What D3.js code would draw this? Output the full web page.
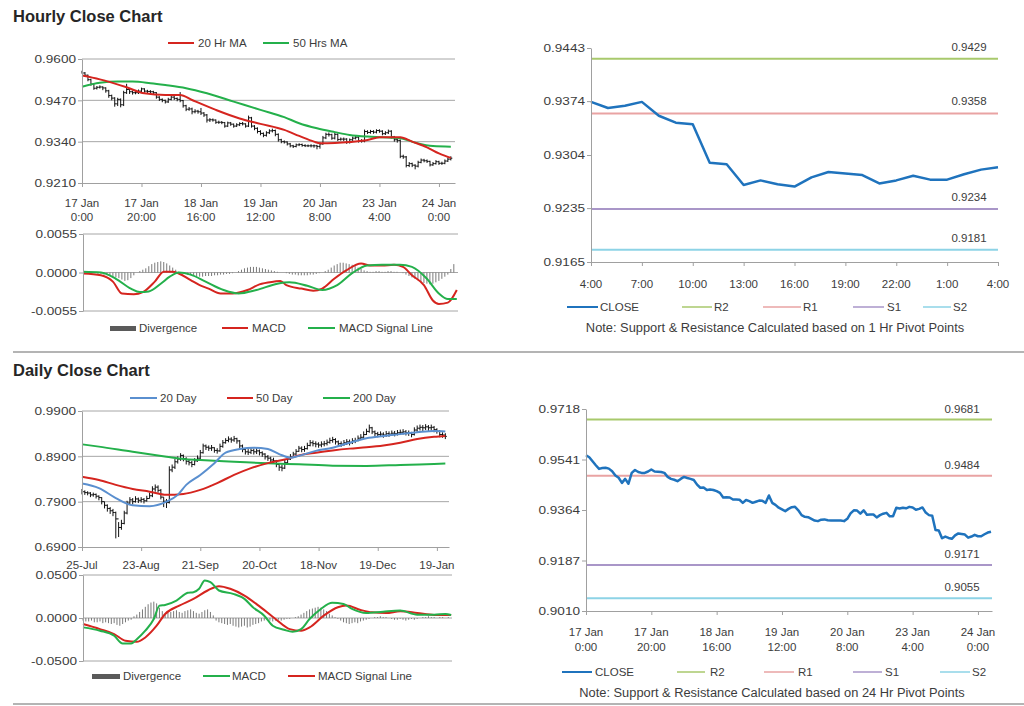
<!DOCTYPE html>
<html><head><meta charset="utf-8">
<script src="https://cdn.jsdelivr.net/npm/d3@7"></script>
<style>body{margin:0;background:#fff}svg{display:block}</style>
</head><body>
<script>
// ---------------- DATA ----------------
const hourlyClose=[.9556,.9549,.9535,.9521,.9508,.9511,.9512,.9509,.9500,.9485,
.9477,.9459,.9473,.9456,.9494,.9504,.9497,.9494,.9494,.9499,
.9506,.9499,.9498,.9497,.9494,.9480,.9473,.9470,.9465,.9473,
.9480,.9476,.9473,.9469,.9453,.9442,.9443,.9434,.9436,.9434,
.9430,.9424,.9408,.9409,.9408,.9401,.9401,.9400,.9389,.9399,
.9395,.9389,.9393,.9397,.9396,.9389,.9415,.9389,.9382,.9372,
.9366,.9360,.9368,.9374,.9375,.9363,.9346,.9340,.9339,.9333,
.9327,.9325,.9330,.9331,.9328,.9327,.9327,.9327,.9327,.9325,
.9333,.9352,.9363,.9362,.9351,.9363,.9347,.9348,.9348,.9338,
.9346,.9351,.9354,.9342,.9342,.9372,.9369,.9372,.9370,.9375,
.9373,.9365,.9368,.9373,.9355,.9346,.9344,.9294,.9292,.9265,
.9271,.9266,.9263,.9275,.9282,.9280,.9278,.9267,.9271,.9277,
.9272,.9272,.9279,.9285,.9288];
const hourlyHigh=[.9563,.9559,.9551,.9538,.9524,.9515,.9517,.9514,.9511,.9503,
.9488,.9480,.9478,.9476,.9500,.9522,.9508,.9501,.9500,.9504,
.9510,.9508,.9503,.9502,.9500,.9496,.9483,.9476,.9472,.9478,
.9485,.9484,.9479,.9496,.9471,.9456,.9449,.9447,.9442,.9440,
.9446,.9433,.9427,.9414,.9413,.9410,.9406,.9405,.9402,.9403,
.9402,.9397,.9398,.9401,.9402,.9398,.9422,.9418,.9392,.9385,
.9376,.9369,.9373,.9379,.9381,.9378,.9366,.9349,.9344,.9341,
.9336,.9330,.9334,.9335,.9334,.9332,.9331,.9332,.9331,.9330,
.9338,.9358,.9368,.9369,.9365,.9368,.9366,.9353,.9353,.9351,
.9350,.9356,.9358,.9357,.9348,.9378,.9376,.9377,.9376,.9379,
.9379,.9376,.9373,.9378,.9376,.9358,.9350,.9347,.9299,.9295,
.9276,.9274,.9269,.9280,.9287,.9286,.9284,.9280,.9276,.9282,
.9280,.9277,.9284,.9290,.9294];
const hourlyLow=[.9554,.9546,.9530,.9516,.9503,.9504,.9507,.9502,.9494,.9478,
.9470,.9450,.9452,.9448,.9452,.9490,.9490,.9488,.9489,.9490,
.9496,.9494,.9493,.9492,.9489,.9475,.9468,.9464,.9460,.9462,
.9470,.9471,.9467,.9464,.9447,.9436,.9437,.9426,.9429,.9428,
.9424,.9418,.9400,.9402,.9403,.9396,.9396,.9395,.9384,.9386,
.9390,.9384,.9386,.9389,.9391,.9384,.9386,.9384,.9376,.9366,
.9360,.9354,.9356,.9364,.9369,.9357,.9340,.9335,.9334,.9328,
.9322,.9320,.9322,.9326,.9324,.9323,.9323,.9322,.9321,.9316,
.9318,.9330,.9348,.9356,.9346,.9347,.9342,.9343,.9342,.9333,
.9334,.9342,.9347,.9337,.9337,.9338,.9364,.9365,.9365,.9366,
.9368,.9360,.9361,.9364,.9350,.9340,.9337,.9288,.9286,.9259,
.9260,.9260,.9253,.9259,.9272,.9275,.9273,.9262,.9264,.9268,
.9267,.9267,.9269,.9276,.9281];
// [bar index, value]
const ma20Hour=[[0,.9548],[6,.9536],[15,.9511],[21,.9492],[28,.9487],[33,.9487],[37,.9471],[45,.9440],[53,.9413],[60,.9396],[68,.9377],[73,.9358],[78,.9340],[80,.9335],[85,.9336],[90,.9339],[96,.9345],[100,.9354],[107,.9354],[111,.9340],[116,.9322],[120,.9303],[124,.9289]];
const ma50Hour=[[0,.9513],[6,.9525],[12,.9529],[17,.9529],[23,.9524],[28,.9518],[35,.9508],[42,.9492],[51,.9466],[60,.9440],[68,.9417],[73,.9398],[79,.9382],[85,.9370],[90,.9361],[96,.9356],[101,.9354],[107,.9351],[112,.9337],[118,.9326],[124,.9324]];
const macdHour=[[0,-.00014],[6,-.0004],[10,-.0013],[13,-.0030],[17,-.0031],[20,-.0028],[24,-.0013],[27,.0001],[30,.0001],[32,-.00014],[36,-.0011],[39,-.0018],[42,-.0023],[46,-.0030],[50,-.0030],[55,-.0025],[59,-.0017],[64,-.0013],[66,-.0012],[68,-.0018],[73,-.0023],[77,-.0026],[80,-.0023],[84,-.0009],[88,.0003],[93,.0013],[96,.0010],[100,.0010],[104,.0011],[107,.0008],[110,-.0004],[114,-.0018],[117,-.0040],[119,-.0045],[122,-.0043],[125,-.0025]];
const signalHour=[[0,.0001],[6,0],[11,-.0009],[16,-.0023],[19,-.0028],[22,-.0027],[26,-.0016],[29,-.0006],[32,0],[36,-.0003],[41,-.0013],[47,-.0025],[52,-.0030],[58,-.0025],[65,-.0016],[69,-.0014],[75,-.0019],[80,-.0025],[85,-.0018],[90,-.0001],[95,.0010],[100,.0011],[106,.0011],[110,.0008],[115,-.0009],[119,-.0030],[122,-.0038],[125,-.0038]];
const divHour=[0,0,-.0001,-.0001,-.0001,
-.0002,-.0002,-.0003,-.0004,-.0005,-.0006,-.0007,-.0008,-.0010,-.0012,-.0011,-.0008,-.0004,
0,.0002,.0004,.0006,.0009,.0012,.0014,.0015,.0016,.0015,.0013,.0010,.0007,.0004,.0001,
-.0001,-.0002,-.0003,-.0004,-.0005,-.0006,-.0006,-.0006,-.0005,-.0005,-.0005,-.0004,-.0004,-.0003,-.0003,-.0002,-.0002,-.0001,
0,.0002,.0004,.0006,.0007,.0008,.0008,.0008,.0007,.0006,.0005,.0004,.0003,.0002,.0001,0,0,
-.0001,-.0002,-.0003,-.0003,-.0004,-.0004,-.0004,-.0004,-.0003,-.0003,-.0002,-.0001,0,
.0002,.0004,.0007,.0010,.0012,.0014,.0014,.0013,.0012,.0011,.0009,.0007,.0005,.0003,.0002,
.0001,.0001,.0002,.0002,.0001,.0001,.0002,.0002,.0001,.0001,0,-.0001,
-.0003,-.0005,-.0007,-.0009,-.0011,-.0013,-.0015,-.0016,-.0017,-.0016,-.0014,-.0012,-.0009,-.0006,-.0003,
.0005,.0012];
const hourTickIdx=[0,20,40,60,80,100,120];
const hourTickLabels=[["17 Jan","0:00"],["17 Jan","20:00"],["18 Jan","16:00"],["19 Jan","12:00"],["20 Jan","8:00"],["23 Jan","4:00"],["24 Jan","0:00"]];
const hourPriceTicks=[0.9210,0.9340,0.9470,0.9600];
const hourMacdTicks=[-0.0055,0,0.0055];

const lastDayStart=100; // 23 Jan 4:00
const pivotNames=["R2","R1","S1","S2"];
const pivotColors=["#a8c96c","#e9a3a3","#a996c8","#8dd3e6"];
const pivotHourValues=[0.9429,0.9358,0.9234,0.9181];
const pivotDayValues=[0.9681,0.9484,0.9171,0.9055];
const lastDayTicks=[0.9165,0.9235,0.9304,0.9374,0.9443];
const lastDayHourLabels=["4:00","7:00","10:00","13:00","16:00","19:00","22:00","1:00","4:00"];
const weekTicks=[0.9010,0.9187,0.9364,0.9541,0.9718];

const dailyClose=[.812,.810,.809,.805,.806,.802,.799,.790,.782,.775,
.770,.766,.752,.733,.742,.765,.787,.794,.790,.796,
.793,.795,.792,.797,.803,.818,.822,.815,.800,.791,
.788,.860,.866,.878,.884,.892,.885,.879,.876,.872,
.880,.886,.898,.913,.910,.908,.909,.903,.902,.912,
.920,.925,.928,.926,.929,.924,.913,.905,.900,.899,
.903,.900,.902,.898,.895,.889,.886,.882,.880,.872,
.866,.864,.876,.884,.889,.895,.901,.908,.905,.907,
.914,.920,.918,.917,.915,.917,.918,.921,.925,.927,
.922,.918,.917,.920,.922,.920,.924,.925,.930,.932,
.938,.945,.953,.944,.940,.938,.939,.937,.940,.939,
.941,.940,.942,.943,.944,.942,.941,.938,.948,.952,
.954,.953,.955,.953,.954,.949,.945,.938,.937,.934];
const dailyHigh=[.818,.815,.813,.811,.810,.808,.804,.800,.790,.784,
.778,.774,.768,.745,.750,.770,.792,.800,.798,.802,
.799,.800,.798,.803,.810,.824,.828,.826,.818,.800,
.796,.868,.872,.884,.890,.897,.894,.888,.884,.880,
.886,.892,.904,.918,.916,.914,.915,.910,.908,.918,
.926,.930,.934,.932,.935,.931,.926,.916,.908,.906,
.909,.907,.908,.905,.901,.897,.893,.889,.887,.882,
.874,.872,.882,.890,.895,.900,.906,.913,.912,.913,
.920,.926,.925,.923,.921,.923,.924,.927,.931,.933,
.930,.925,.923,.926,.928,.927,.930,.931,.936,.939,
.945,.951,.960,.955,.947,.944,.945,.943,.946,.945,
.947,.946,.948,.949,.950,.948,.947,.944,.954,.958,
.960,.959,.961,.959,.960,.957,.952,.948,.943,.941];
const dailyLow=[.806,.805,.804,.800,.801,.797,.793,.784,.775,.768,
.763,.758,.709,.712,.728,.740,.762,.785,.784,.788,
.787,.788,.786,.790,.797,.800,.812,.810,.795,.778,
.776,.786,.855,.862,.874,.880,.879,.872,.870,.866,
.870,.878,.884,.896,.904,.902,.902,.898,.896,.900,
.909,.918,.921,.920,.922,.918,.908,.899,.894,.893,
.895,.894,.895,.892,.889,.883,.880,.876,.874,.866,
.858,.857,.862,.872,.882,.887,.893,.900,.899,.900,
.905,.912,.912,.910,.909,.910,.912,.914,.918,.920,
.916,.912,.911,.913,.915,.914,.917,.919,.923,.926,
.930,.937,.942,.939,.934,.932,.933,.931,.933,.933,
.935,.934,.936,.937,.938,.936,.935,.932,.936,.944,
.947,.946,.948,.946,.947,.943,.940,.932,.931,.928];
const ma20Day=[[0,.830],[6,.820],[12,.798],[18,.782],[24,.780],[30,.790],[34,.805],[37,.827],[42,.849],[47,.875],[51,.898],[56,.906],[61,.909],[66,.906],[70,.895],[74,.887],[77,.891],[83,.902],[89,.909],[95,.920],[101,.930],[107,.935],[113,.939],[119,.943],[125,.946],[129,.945]];
const ma50Day=[[0,.845],[6,.838],[12,.827],[18,.818],[24,.812],[30,.805],[36,.807],[42,.816],[48,.831],[54,.849],[60,.864],[66,.875],[72,.883],[77,.892],[83,.898],[89,.903],[95,.907],[101,.910],[107,.914],[113,.920],[119,.928],[125,.933],[129,.935]];
const ma200Day=[[0,.9165],[6,.9114],[18,.900],[30,.8893],[36,.8842],[42,.882],[54,.8783],[66,.8746],[77,.8724],[89,.8695],[101,.8688],[113,.871],[125,.8732],[129,.874]];
const macdDay=[[0,-.0109],[6,-.0148],[11,-.0207],[14,-.0296],[17,-.0296],[19,-.0246],[22,-.0148],[25,-.0012],[27,.0144],[29,.0152],[33,.0203],[37,.0293],[39,.0300],[41,.0340],[43,.0437],[45,.0417],[48,.0320],[53,.0281],[57,.0222],[60,.0125],[64,.0027],[67,-.0090],[71,-.0137],[74,-.0160],[77,-.0129],[80,-.0012],[84,.0105],[88,.0176],[92,.0164],[95,.0105],[100,.0058],[106,.0074],[112,.0086],[118,.0039],[124,.0039],[128,.0047],[130,.0035]];
const signalDay=[[0,-.0070],[6,-.0129],[11,-.0187],[15,-.0265],[19,-.0277],[22,-.0226],[26,-.0090],[29,.0047],[34,.0144],[39,.0222],[44,.0320],[48,.0370],[52,.0340],[57,.0261],[62,.0144],[68,-.0012],[73,-.0129],[77,-.0148],[80,-.0109],[85,.0027],[90,.0125],[93,.0144],[98,.0094],[102,.0066],[107,.0058],[112,.0078],[118,.0058],[124,.0035],[130,.0035]];
const divDay=[-.003,-.004,-.004,-.003,-.005,-.005,-.004,-.006,-.005,-.006,-.007,-.006,-.008,-.009,-.007,-.005,-.003,-.002,
.002,.004,.007,.010,.013,.016,.018,.019,.017,.012,.008,.005,
.006,.007,.008,.009,.007,.006,.008,.009,.010,.008,.006,.005,.007,.009,.010,.007,.003,
-.003,-.005,-.006,-.007,-.008,-.007,-.009,-.010,-.011,-.010,-.009,-.011,-.010,-.008,-.007,-.006,-.004,-.003,
-.002,-.003,-.004,-.003,-.002,-.003,-.002,-.001,-.001,0,.001,.002,.004,
.006,.008,.010,.011,.012,.013,.012,.010,.008,.005,.003,.001,-.001,-.003,-.005,
-.006,-.007,-.006,-.005,-.006,-.004,-.003,-.002,-.001,
0,.001,.001,.002,.001,.001,0,-.001,-.002,-.002,-.001,-.002,-.003,-.002,-.001,-.002,-.001,0,.001,.001,.002,.001,.001,0,.001,.001,0,.001];
const dayTickIdx=[0,21,42,63,84,105,126];
const dayTickLabels=["25-Jul","23-Aug","21-Sep","20-Oct","18-Nov","19-Dec","19-Jan"];
const dayPriceTicks=[0.6900,0.7900,0.8900,0.9900];
const dayMacdTicks=[-0.05,0,0.05];

// ---------------- DRAW ----------------
const FONT="'Liberation Sans', Arial, Helvetica, sans-serif";
const AXC="#a0a0a0", GRIDC="#a6a6a6", TXT="#3c3c3c";
const RED="#d5251f", GREEN="#24b04b", BLUE20="#5a8fcf", CLOSEC="#1f73bd";
const f4=d=>d.toFixed(4);
const svg=d3.select("body").append("svg").attr("width",1024).attr("height",706).style("font-family",FONT);

function stretch(sel,k){
  sel.each(function(){const L=this.getComputedTextLength(); d3.select(this).attr("textLength",L*k).attr("lengthAdjust","spacingAndGlyphs");});
}
function txt(x,y,s,size,anchor,weight,fill){
  return svg.append("text").attr("x",x).attr("y",y).text(s).attr("font-size",size||11)
    .attr("text-anchor",anchor||"start").attr("font-weight",weight||"normal").attr("fill",fill||TXT);
}
function styleAxis(g){
  g.attr("font-family",FONT).attr("font-size",11.5);
  g.select(".domain").attr("stroke",AXC);
  g.selectAll(".tick line").attr("stroke",AXC);
  g.selectAll(".tick text").attr("fill",TXT);
}
function hgrid(y,vals,x0,x1){
  svg.append("g").selectAll("line").data(vals).join("line")
    .attr("x1",x0).attr("x2",x1).attr("y1",d=>y(d)).attr("y2",d=>y(d))
    .attr("stroke",GRIDC).attr("stroke-width",1);
}
function leftAxis(y,vals,x0){
  const g=svg.append("g").attr("transform",`translate(${x0},0)`)
    .call(d3.axisLeft(y).tickValues(vals).tickFormat(f4).tickSize(4).tickSizeOuter(0).tickPadding(2));
  styleAxis(g);
  stretch(g.selectAll(".tick text"),1.18);
  return g;
}
function bottomAxis(x,vals,y0){
  const g=svg.append("g").attr("transform",`translate(0,${y0})`)
    .call(d3.axisBottom(x).tickValues(vals).tickFormat("").tickSize(4).tickSizeOuter(0));
  styleAxis(g); return g;
}
function legLine(x1,x2,y,color,w,label,tx){
  svg.append("line").attr("x1",x1).attr("x2",x2).attr("y1",y).attr("y2",y).attr("stroke",color).attr("stroke-width",w);
  txt(tx,y+4,label,11.5);
}
function pairLine(x,y,data,color,w){
  svg.append("path").datum(data).attr("fill","none").attr("stroke",color).attr("stroke-width",w)
    .attr("stroke-linejoin","round")
    .attr("d",d3.line().x(d=>x(d[0])).y(d=>y(d[1])).curve(d3.curveMonotoneX));
}
function bars(x,y,hi,lo,cl){
  const g=svg.append("g").attr("stroke","#111").attr("stroke-width",1);
  cl.forEach((c,i)=>{
    g.append("line").attr("x1",x(i)).attr("x2",x(i)).attr("y1",y(hi[i])).attr("y2",y(lo[i]));
    g.append("line").attr("x1",x(i)).attr("x2",x(i)+1.5).attr("y1",y(c)).attr("y2",y(c));
    if(i>0) g.append("line").attr("x1",x(i)-1.5).attr("x2",x(i)).attr("y1",y(cl[i-1])).attr("y2",y(cl[i-1]));
  });
}
function divBars(x,y,vals){
  svg.append("g").selectAll("line").data(vals).join("line")
    .attr("x1",(d,i)=>x(i)).attr("x2",(d,i)=>x(i)).attr("y1",y(0)).attr("y2",d=>y(d))
    .attr("stroke","#7a7a7a").attr("stroke-width",1);
}

// titles & separators
txt(13,22,"Hourly Close Chart",16.5,"start","bold","#262626");
txt(13,376,"Daily Close Chart",16.5,"start","bold","#262626");
[352,704].forEach(yy=>svg.append("line").attr("x1",13).attr("x2",1024).attr("y1",yy).attr("y2",yy).attr("stroke","#b4b4b4").attr("stroke-width",2));

// ---- Panel A: hourly bars
{
  const x=d3.scaleLinear().domain([0,125.4]).range([82,455]);
  const y=d3.scaleLinear().domain([0.9210,0.9600]).range([183,59]);
  hgrid(y,hourPriceTicks.slice(1),82,455);
  bars(x,y,hourlyHigh,hourlyLow,hourlyClose);
  pairLine(x,y,ma50Hour,GREEN,2);
  pairLine(x,y,ma20Hour,RED,2);
  leftAxis(y,hourPriceTicks,82);
  bottomAxis(x,hourTickIdx,183);
  hourTickIdx.forEach((t,k)=>{
    txt(x(t),207,hourTickLabels[k][0],11.5,"middle");
    txt(x(t),221,hourTickLabels[k][1],11.5,"middle");
  });
  legLine(168,194,43,RED,2,"20 Hr MA",198);
  legLine(263,289,43,GREEN,2,"50 Hrs MA",293);
}
// ---- Panel B: hourly MACD
{
  const x=d3.scaleLinear().domain([0,125.4]).range([83,458]);
  const y=d3.scaleLinear().domain([-0.0055,0.0055]).range([311,234]);
  hgrid(y,hourMacdTicks,83,458);
  divBars(x,y,divHour);
  pairLine(x,y,macdHour,RED,2);
  pairLine(x,y,signalHour,GREEN,2);
  leftAxis(y,hourMacdTicks,83);
  svg.append("rect").attr("x",110).attr("y",326).attr("width",26).attr("height",5).attr("fill","#5a5a5a");
  txt(139,332,"Divergence",11.5);
  legLine(222,248,328,RED,2,"MACD",252);
  legLine(308,335,328,GREEN,2,"MACD Signal Line",339);
}
// ---- Panel C: last 24 hours with hourly pivots
{
  const data=hourlyClose.slice(lastDayStart);
  const x=d3.scaleLinear().domain([0,24]).range([591,998]);
  const y=d3.scaleLinear().domain([lastDayTicks[0],lastDayTicks[4]]).range([262,48]);
  pivotHourValues.forEach((v,k)=>{
    svg.append("line").attr("x1",591).attr("x2",998).attr("y1",y(v)).attr("y2",y(v)).attr("stroke",pivotColors[k]).attr("stroke-width",2);
    txt(969,y(v)-8,v.toFixed(4),11.5,"middle");
  });
  svg.append("path").datum(data).attr("fill","none").attr("stroke",CLOSEC).attr("stroke-width",2.5)
    .attr("stroke-linejoin","round").attr("d",d3.line().x((d,i)=>x(i)).y(d=>y(d)));
  leftAxis(y,lastDayTicks,591);
  const tIdx=d3.range(0,25,3);
  bottomAxis(x,tIdx,262);
  tIdx.forEach((t,k)=>txt(x(t),288,lastDayHourLabels[k],11.5,"middle"));
  legLine(567,598,307,CLOSEC,2,"CLOSE",600);
  const lx=[[682,712,714],[763,801,803],[853,884,887],[923,951,953]];
  pivotNames.forEach((n,k)=>legLine(lx[k][0],lx[k][1],307,pivotColors[k],1.5,n,lx[k][2]));
  stretch(txt(775,332,"Note: Support & Resistance Calculated based on 1 Hr Pivot Points",12,"middle"),1.07);
}
// ---- Panel D: daily bars
{
  const x=d3.scaleLinear().domain([0,130.3]).range([82,449]);
  const y=d3.scaleLinear().domain([0.69,0.99]).range([547,411]);
  hgrid(y,dayPriceTicks.slice(1),82,449);
  bars(x,y,dailyHigh,dailyLow,dailyClose);
  pairLine(x,y,ma200Day,GREEN,2);
  pairLine(x,y,ma50Day,RED,2);
  pairLine(x,y,ma20Day,BLUE20,2);
  leftAxis(y,dayPriceTicks,82);
  bottomAxis(x,dayTickIdx,547);
  dayTickIdx.forEach((t,k)=>txt(x(t),569,dayTickLabels[k],11.5,"middle"));
  legLine(130,157,398,BLUE20,2,"20 Day",160);
  legLine(227,253,398,RED,2,"50 Day",256);
  legLine(323,350,398,GREEN,2,"200 Day",353);
}
// ---- Panel E: daily MACD
{
  const x=d3.scaleLinear().domain([0,130.3]).range([83,452]);
  const y=d3.scaleLinear().domain([-0.05,0.05]).range([661,575]);
  hgrid(y,dayMacdTicks,83,452);
  divBars(x,y,divDay);
  pairLine(x,y,signalDay,RED,2);
  pairLine(x,y,macdDay,GREEN,2);
  leftAxis(y,dayMacdTicks,83);
  svg.append("rect").attr("x",92).attr("y",674).attr("width",28).attr("height",5).attr("fill","#5a5a5a");
  txt(123,680,"Divergence",11.5);
  legLine(203,230,676,GREEN,2,"MACD",232);
  legLine(288,315,676,RED,2,"MACD Signal Line",318);
}
// ---- Panel F: week hourly close with daily pivots
{
  const x=d3.scaleLinear().domain([0,124.3]).range([586,992]);
  const y=d3.scaleLinear().domain([weekTicks[0],weekTicks[4]]).range([611,409]);
  pivotDayValues.forEach((v,k)=>{
    svg.append("line").attr("x1",586).attr("x2",992).attr("y1",y(v)).attr("y2",y(v)).attr("stroke",pivotColors[k]).attr("stroke-width",2);
    txt(962,y(v)-7,v.toFixed(4),11.5,"middle");
  });
  svg.append("path").datum(hourlyClose).attr("fill","none").attr("stroke",CLOSEC).attr("stroke-width",2.5)
    .attr("stroke-linejoin","round").attr("d",d3.line().x((d,i)=>x(i)).y(d=>y(d)));
  leftAxis(y,weekTicks,586);
  bottomAxis(x,hourTickIdx,611);
  hourTickIdx.forEach((t,k)=>{
    txt(x(t),636,hourTickLabels[k][0],11.5,"middle");
    txt(x(t),651,hourTickLabels[k][1],11.5,"middle");
  });
  legLine(562,592,672,CLOSEC,2,"CLOSE",595);
  const lx=[[677,705,710],[764,794,798],[853,882,885],[940,970,972]];
  pivotNames.forEach((n,k)=>legLine(lx[k][0],lx[k][1],672,pivotColors[k],1.5,n,lx[k][2]));
  stretch(txt(772,697,"Note: Support & Resistance Calculated based on 24 Hr Pivot Points",12,"middle"),1.07);
}
</script>
</body></html>
